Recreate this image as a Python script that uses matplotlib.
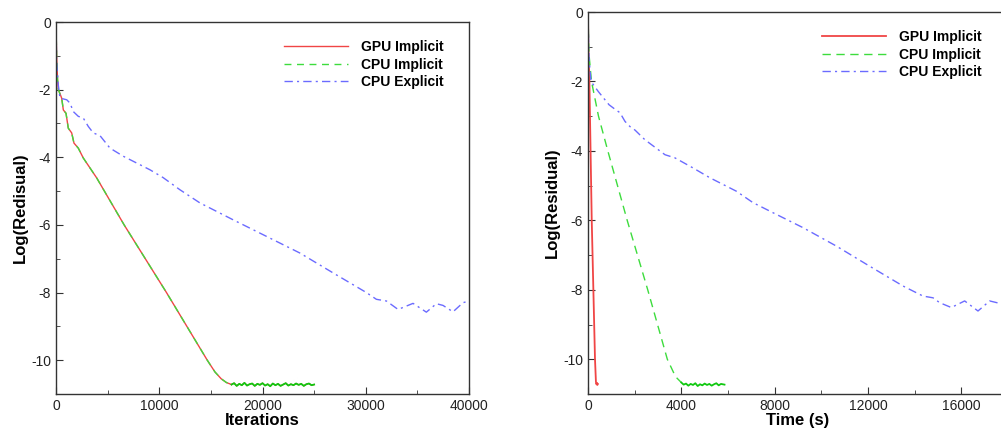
import numpy as np
import matplotlib
matplotlib.use('Agg')
import matplotlib.pyplot as plt
from matplotlib.ticker import MultipleLocator

plt.rcParams['font.family'] = ['Liberation Sans', 'DejaVu Sans']

# ---- left panel: residual vs iterations ----
it_implicit = [0, 60, 150, 230, 550, 710, 970, 1190, 1520, 1740, 2160, 2640, 3940,
               6600, 10700, 14650, 15400, 16000, 16500, 17000]
res_implicit = [-0.1, -1.0, -1.7, -2.0, -2.25, -2.6, -2.7, -3.14, -3.28, -3.58, -3.73, -4.02,
                -4.61, -6.0, -8.0, -10.0, -10.35, -10.55, -10.66, -10.72]
# noisy plateau after convergence
it_tail = [17000, 17250, 17500, 17750, 18000, 18250, 18500, 18750, 19000, 19250, 19500,
           19750, 20000, 20250, 20500, 20750, 21000, 21250, 21500, 21750, 22000, 22250,
           22500, 22750, 23000, 23250, 23500, 23750, 24000, 24250, 24500, 24750, 25000]
res_tail = [-10.72, -10.68, -10.76, -10.70, -10.74, -10.67, -10.75, -10.71, -10.69, -10.76,
            -10.70, -10.73, -10.68, -10.75, -10.71, -10.77, -10.69, -10.74, -10.70, -10.76,
            -10.72, -10.68, -10.75, -10.71, -10.74, -10.69, -10.73, -10.70, -10.76, -10.71,
            -10.69, -10.74, -10.72]

it_explicit = [0, 60, 225, 390, 1040, 1360, 1680, 2160, 2640, 3130, 3610, 4260, 5230,
               6520, 9100, 10370, 12000, 13940, 17160, 20390, 23610, 26840, 30060, 31030,
               32000, 33130, 34580, 35870, 36840, 37480, 38450, 39420, 40000]
res_explicit = [-0.1, -1.2, -1.87, -2.25, -2.3, -2.4, -2.65, -2.79, -2.84, -3.09, -3.28,
                -3.36, -3.73, -3.97, -4.37, -4.6, -4.96, -5.35, -5.85, -6.34, -6.83, -7.42,
                -8.0, -8.2, -8.25, -8.5, -8.32, -8.58, -8.33, -8.38, -8.57, -8.3, -8.25]

# ---- right panel: residual vs wall time ----
t_gpu = [0, 15, 60, 160, 300, 340, 360, 385, 400, 420]
res_gpu = [-0.1, -1.0, -2.0, -6.0, -10.0, -10.65, -10.72, -10.68, -10.74, -10.71]

t_cpu_imp = [0, 40, 150, 450, 850, 1680, 2560, 3400, 3750, 4000]
res_cpu_imp = [-0.1, -1.2, -2.0, -3.0, -4.0, -6.0, -8.0, -10.0, -10.5, -10.67]
t_cpu_tail = [4000, 4100, 4200, 4300, 4400, 4500, 4600, 4700, 4800, 4900, 5000, 5100, 5200,
              5300, 5400, 5500, 5600, 5700, 5850]
res_cpu_tail = [-10.67, -10.73, -10.70, -10.76, -10.71, -10.74, -10.69, -10.77, -10.72,
                -10.75, -10.70, -10.74, -10.71, -10.76, -10.72, -10.69, -10.75, -10.71, -10.73]

t_explicit = [0, 40, 128, 441, 900, 1157, 1370, 1585, 1800, 2014, 2440, 3300, 3725, 4500,
              5214, 6357, 7071, 7929, 9214, 10643, 12071, 13500, 14357, 14786, 15071,
              15571, 16143, 16714, 17214, 17643]
res_explicit_t = [-0.1, -1.3, -2.0, -2.29, -2.67, -2.8, -2.9, -3.15, -3.3, -3.4, -3.68,
                  -4.11, -4.2, -4.49, -4.77, -5.16, -5.49, -5.78, -6.21, -6.74, -7.32, -7.89,
                  -8.18, -8.23, -8.37, -8.51, -8.32, -8.61, -8.32, -8.39]

red = '#f04545'
green = '#3ddc3d'
green_tail = '#10c810'
blue = '#6b6bff'

fig = plt.figure(figsize=(10.01, 4.32), dpi=100)
ax1 = fig.add_axes([56 / 1001, 1 - 394 / 432, 413 / 1001, 372 / 432])
ax2 = fig.add_axes([588 / 1001, 1 - 394 / 432, 420 / 1001, 382 / 432])


def style(ax):
    for s in ax.spines.values():
        s.set_linewidth(1.0)
        s.set_color('#333333')
    ax.tick_params(which='both', direction='in', labelsize=10, colors='#333333',
                   labelcolor='#222222')
    ax.tick_params(which='major', length=5)
    ax.tick_params(which='minor', length=3)
    ax.yaxis.set_minor_locator(MultipleLocator(1))
    ax.set_ylim(-11, 0)
    ax.set_yticks([0, -2, -4, -6, -8, -10])
    ax.set_yticklabels(['0', '-2', '-4', '-6', '-8', '-10'])


# left
ax1.plot(it_implicit, res_implicit, color=red, lw=1.0, label='GPU Implicit')
ax1.plot(it_tail, res_tail, color=red, lw=1.0)
ax1.plot(it_implicit, res_implicit, color=green, lw=1.0, ls=(0, (5, 4)), label='CPU Implicit')
ax1.plot(it_tail, res_tail, color=green_tail, lw=1.3)
ax1.plot(it_explicit, res_explicit, color=blue, lw=1.0, ls=(0, (6, 3, 1.5, 3)),
         label='CPU Explicit')
ax1.set_xlim(0, 40000)
ax1.xaxis.set_major_locator(MultipleLocator(10000))
ax1.xaxis.set_minor_locator(MultipleLocator(5000))
style(ax1)
ax1.set_xlabel('Iterations', fontsize=12, fontweight='bold', labelpad=0)
ax1.set_ylabel('Log(Redisual)', fontsize=12, fontweight='bold', labelpad=2)
ax1.legend(loc='upper right', bbox_to_anchor=(0.97, 0.985), frameon=False,
           prop={'weight': 'bold', 'size': 10}, handlelength=4.6, handletextpad=1.0,
           labelspacing=0.25)

# right
ax2.plot(t_gpu, res_gpu, color=red, lw=1.3, label='GPU Implicit')
ax2.plot(t_cpu_imp, res_cpu_imp, color=green, lw=1.0, ls=(0, (6, 4)), label='CPU Implicit')
ax2.plot(t_cpu_tail, res_cpu_tail, color=green_tail, lw=1.3)
ax2.plot(t_explicit, res_explicit_t, color=blue, lw=1.0, ls=(0, (6, 3, 1.5, 3)),
         label='CPU Explicit')
ax2.set_xlim(0, 18000)
ax2.set_xticks([0, 4000, 8000, 12000, 16000])
ax2.xaxis.set_minor_locator(MultipleLocator(2000))
style(ax2)
ax2.set_xlabel('Time (s)', fontsize=12, fontweight='bold', labelpad=0)
ax2.set_ylabel('Log(Residual)', fontsize=12, fontweight='bold', labelpad=2)
ax2.legend(loc='upper right', bbox_to_anchor=(0.968, 0.985), frameon=False,
           prop={'weight': 'bold', 'size': 10}, handlelength=4.6, handletextpad=1.0,
           labelspacing=0.25)

fig.savefig('out.png', dpi=100)
